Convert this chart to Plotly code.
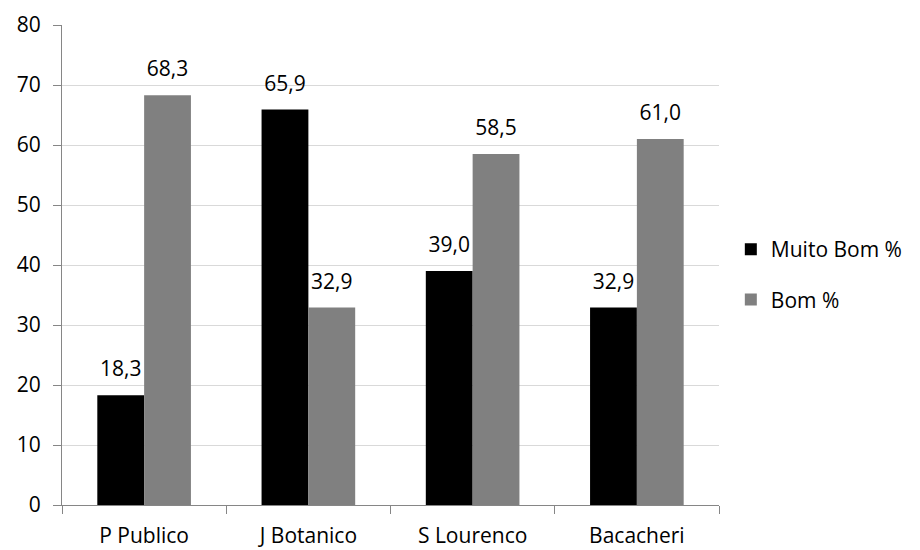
import plotly.graph_objects as go

categories = ["P Publico", "J Botanico", "S Lourenco", "Bacacheri"]
muito_bom = [18.3, 65.9, 39.0, 32.9]
bom = [68.3, 32.9, 58.5, 61.0]
series_names = ["Muito Bom %", "Bom %"]
series_colors = ["#000000", "#808080"]
y_ticks = [0, 10, 20, 30, 40, 50, 60, 70, 80]

def fmt(v):
    return f"{v:.1f}".replace(".", ",")

FONT = "Open Sans"
FS = 21
GAP = 0.43

fig = go.Figure()
for name, vals, col, grp in zip(series_names, [muito_bom, bom], series_colors, ["a", "b"]):
    fig.add_trace(go.Bar(x=categories, y=vals, name=name,
                         marker=dict(color=col, line=dict(width=0)),
                         legendgroup=grp, offsetgroup=grp, hoverinfo="skip"))
for name, vals, grp in zip(series_names, [muito_bom, bom], ["a", "b"]):
    fig.add_trace(go.Scatter(x=categories, y=vals, mode="markers+text",
                             text=[fmt(v) for v in vals], textposition="top center",
                             textfont=dict(color="#000000", size=FS, family=FONT),
                             marker=dict(size=20, opacity=0),
                             offsetgroup=grp, showlegend=False, cliponaxis=False,
                             hoverinfo="skip"))

fig.update_layout(
    width=920, height=550,
    margin=dict(l=62, r=198, t=25, b=45),
    paper_bgcolor="white", plot_bgcolor="white",
    barmode="group", bargap=GAP, bargroupgap=0,
    scattermode="group", scattergap=GAP,
    font=dict(family=FONT, size=FS, color="#000000"),
    showlegend=True,
    legend=dict(x=1.018, y=0.48, xanchor="left", yanchor="middle",
                font=dict(size=FS, family=FONT), tracegroupgap=20,
                itemwidth=30),
)
fig.update_yaxes(range=[0, 80], tickvals=y_ticks, showgrid=True,
                 gridcolor="#d9d9d9", gridwidth=1,
                 showline=True, linecolor="#868686", linewidth=1,
                 ticks="outside", ticklen=8, tickcolor="#868686",
                 ticklabelstandoff=8, automargin=False,
                 tickfont=dict(size=FS), zeroline=False)
fig.update_xaxes(showline=True, linecolor="#868686", linewidth=1,
                 ticks="outside", ticklen=8, tickcolor="#868686",
                 ticklabelstandoff=12, automargin=False,
                 tickson="boundaries", tickfont=dict(size=FS))

fig.write_html("out.html")
